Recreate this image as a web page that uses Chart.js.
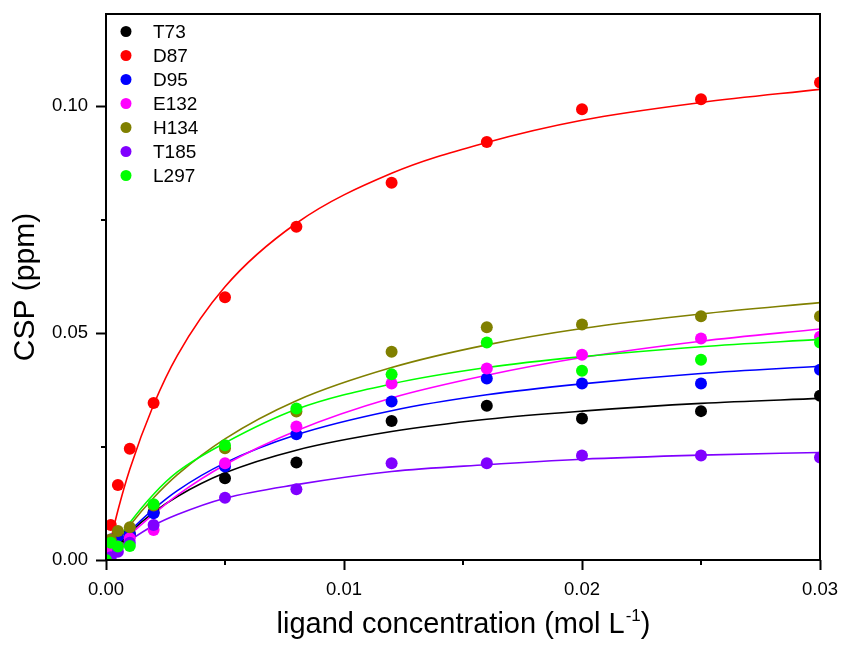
<!DOCTYPE html>
<html>
<head>
<meta charset="utf-8">
<script src="https://cdn.jsdelivr.net/npm/chart.js@4.4.0/dist/chart.umd.min.js"></script>
<style>
  html, body { margin: 0; padding: 0; background: #ffffff; }
  #wrap { width: 843px; height: 650px; }
</style>
</head>
<body>
<div id="wrap"><canvas id="c" width="843" height="650"></canvas></div>
<script>
// Residue names and their marker colours
const SERIES_NAMES  = ['T73', 'D87', 'D95', 'E132', 'H134', 'T185', 'L297'];
const SERIES_COLORS = ['#000000', '#ff0000', '#0000ff', '#ff00ff', '#808000', '#8000ff', '#00ff00'];

// Titration points: ligand concentration (mol/L) and chemical shift perturbation (ppm)
const CONC = [0, 0.0002, 0.0005, 0.001, 0.002, 0.005, 0.008, 0.012, 0.016, 0.02, 0.025, 0.03];
const CSP_T73  = [0, 0.0030, 0.0040, 0.0058, 0.0105, 0.0180, 0.0215, 0.0306, 0.0340, 0.0312, 0.0328, 0.0362];
const CSP_D87  = [0, 0.0077, 0.0165, 0.0245, 0.0346, 0.0579, 0.0734, 0.0831, 0.0921, 0.0993, 0.1015, 0.1052];
const CSP_D95  = [0, 0.0045, 0.0052, 0.0057, 0.0103, 0.0206, 0.0277, 0.0349, 0.0400, 0.0389, 0.0389, 0.0419];
const CSP_E132 = [0, 0.0020, 0.0030, 0.0048, 0.0066, 0.0213, 0.0294, 0.0389, 0.0422, 0.0452, 0.0488, 0.0492];
const CSP_H134 = [0, 0.0045, 0.0064, 0.0072, 0.0120, 0.0246, 0.0327, 0.0459, 0.0513, 0.0519, 0.0537, 0.0537];
const CSP_T185 = [0, 0.0006, 0.0018, 0.0038, 0.0077, 0.0137, 0.0156, 0.0213, 0.0213, 0.0230, 0.0230, 0.0226];
const CSP_L297 = [0, 0.0038, 0.0030, 0.0031, 0.0123, 0.0253, 0.0334, 0.0409, 0.0479, 0.0417, 0.0441, 0.0479];

// Fitted binding curves, sampled along the concentration axis
const FIT_CONC = [0, 0.0005, 0.001, 0.002, 0.003, 0.005, 0.008, 0.012, 0.016, 0.02, 0.025, 0.03];
const FIT_T73  = [0, 0.0032, 0.0060, 0.0105, 0.0140, 0.0192, 0.0242, 0.0283, 0.0310, 0.0328, 0.0345, 0.0356];
const FIT_D87  = [0, 0.0109, 0.0200, 0.0342, 0.0451, 0.0602, 0.0742, 0.0852, 0.0920, 0.0969, 0.1008, 0.1037];
const FIT_D95  = [0, 0.0033, 0.0063, 0.0112, 0.0153, 0.0214, 0.0276, 0.0329, 0.0364, 0.0388, 0.0411, 0.0427];
const FIT_E132 = [0, 0.0029, 0.0055, 0.0101, 0.0143, 0.0210, 0.0285, 0.0357, 0.0407, 0.0446, 0.0482, 0.0509];
const FIT_H134 = [0, 0.0040, 0.0076, 0.0137, 0.0188, 0.0267, 0.0351, 0.0424, 0.0474, 0.0510, 0.0542, 0.0567];
const FIT_T185 = [0, 0.0023, 0.0043, 0.0076, 0.0100, 0.0136, 0.0166, 0.0195, 0.0210, 0.0222, 0.0231, 0.0237];
const FIT_L297 = [0, 0.0044, 0.0082, 0.0145, 0.0194, 0.0258, 0.0332, 0.0388, 0.0424, 0.0448, 0.0470, 0.0486];

// Axis ticks and titles
const X_TICKS = [0, 0.01, 0.02, 0.03];
const X_MINOR = [0.005, 0.015, 0.025];
const Y_TICKS = [0, 0.05, 0.10];
const Y_MINOR = [0.025, 0.075];
const X_TITLE = 'ligand concentration (mol L';
const X_TITLE_SUP = '-1';
const Y_TITLE = 'CSP (ppm)';

const FONT = '"Liberation Sans", Arial, sans-serif';

const POINTS = [CSP_T73, CSP_D87, CSP_D95, CSP_E132, CSP_H134, CSP_T185, CSP_L297];
const FITS   = [FIT_T73, FIT_D87, FIT_D95, FIT_E132, FIT_H134, FIT_T185, FIT_L297];

const toXY = (xs, ys) => xs.map((x, i) => ({ x: x, y: ys[i] }));

const datasets = [];
SERIES_NAMES.forEach((name, i) => {
  datasets.push({
    label: name,
    data: toXY(CONC, POINTS[i]),
    showLine: false,
    pointRadius: 6,
    pointHoverRadius: 6,
    pointBorderWidth: 0,
    pointBackgroundColor: SERIES_COLORS[i],
    backgroundColor: SERIES_COLORS[i],
    borderColor: SERIES_COLORS[i],
    clip: 0,
    order: 10 - i
  });
});
SERIES_NAMES.forEach((name, i) => {
  datasets.push({
    label: name + ' fit',
    data: toXY(FIT_CONC, FITS[i]),
    showLine: true,
    pointRadius: 0,
    borderWidth: 1.6,
    borderColor: SERIES_COLORS[i],
    backgroundColor: SERIES_COLORS[i],
    cubicInterpolationMode: 'monotone',
    fill: false,
    clip: 0,
    order: 40 - i
  });
});

// Box frame, minor ticks, axis titles and in-plot legend
const decorations = {
  id: 'decorations',
  afterDatasetsDraw(chart) {
    const ctx = chart.ctx;
    const a = chart.chartArea;
    const xs = chart.scales.x, ys = chart.scales.y;
    ctx.save();
    ctx.strokeStyle = '#000';
    ctx.lineWidth = 2;
    ctx.strokeRect(a.left, a.top, a.right - a.left, a.bottom - a.top);
    ctx.beginPath();
    X_MINOR.forEach(v => {
      const px = Math.round(xs.getPixelForValue(v));
      ctx.moveTo(px, a.bottom);
      ctx.lineTo(px, a.bottom + 5);
    });
    Y_MINOR.forEach(v => {
      const py = Math.round(ys.getPixelForValue(v));
      ctx.moveTo(a.left, py);
      ctx.lineTo(a.left - 5, py);
    });
    ctx.stroke();
    ctx.restore();
  },
  afterDraw(chart) {
    const ctx = chart.ctx;
    const a = chart.chartArea;
    ctx.save();
    ctx.fillStyle = '#000';

    // x title with superscript
    const mainFont = '29px ' + FONT;
    const supFont = '17px ' + FONT;
    ctx.font = mainFont;
    const w1 = ctx.measureText(X_TITLE).width;
    const w3 = ctx.measureText(')').width;
    ctx.font = supFont;
    const w2 = ctx.measureText(X_TITLE_SUP).width;
    const total = w1 + w2 + w3;
    const x0 = (a.left + a.right) / 2 - total / 2;
    const base = 633;
    ctx.textBaseline = 'alphabetic';
    ctx.textAlign = 'left';
    ctx.font = mainFont;
    ctx.fillText(X_TITLE, x0, base);
    ctx.font = supFont;
    ctx.fillText(X_TITLE_SUP, x0 + w1 + 1, base - 12);
    ctx.font = mainFont;
    ctx.fillText(')', x0 + w1 + w2 + 1, base);

    // y title
    ctx.save();
    ctx.translate(34, (a.top + a.bottom) / 2);
    ctx.rotate(-Math.PI / 2);
    ctx.textAlign = 'center';
    ctx.textBaseline = 'alphabetic';
    ctx.font = '30px ' + FONT;
    ctx.fillText(Y_TITLE, 0, 0);
    ctx.restore();

    // legend
    ctx.font = '19px ' + FONT;
    ctx.textAlign = 'left';
    ctx.textBaseline = 'middle';
    SERIES_NAMES.forEach((name, i) => {
      const cy = 31.5 + i * 24;
      ctx.beginPath();
      ctx.fillStyle = SERIES_COLORS[i];
      ctx.arc(126, cy, 5.5, 0, Math.PI * 2);
      ctx.fill();
      ctx.fillStyle = '#000';
      ctx.fillText(name, 153, cy + 1);
    });
    ctx.restore();
  }
};

new Chart(document.getElementById('c'), {
  type: 'scatter',
  data: { datasets: datasets },
  options: {
    responsive: false,
    devicePixelRatio: 1,
    animation: false,
    layout: { padding: { left: 0, right: 23, top: 14, bottom: 0 } },
    plugins: {
      legend: { display: false },
      tooltip: { enabled: false },
      title: { display: false }
    },
    scales: {
      x: {
        type: 'linear',
        min: 0,
        max: 0.03,
        afterBuildTicks: s => { s.ticks = X_TICKS.map(v => ({ value: v })); },
        afterFit: s => { s.height = 90; s.paddingLeft = 0; s.paddingRight = 0; },
        ticks: {
          color: '#000',
          font: { family: FONT, size: 18.5 },
          padding: 9,
          maxRotation: 0,
          callback: v => Number(v).toFixed(2)
        },
        grid: {
          display: true,
          drawOnChartArea: false,
          drawTicks: true,
          tickLength: 10,
          tickWidth: 2,
          tickColor: '#000',
          color: '#000'
        },
        border: { display: false }
      },
      y: {
        type: 'linear',
        min: 0,
        max: 0.1203,
        afterBuildTicks: s => { s.ticks = Y_TICKS.map(v => ({ value: v })); },
        afterFit: s => { s.width = 106; s.paddingTop = 0; s.paddingBottom = 0; },
        ticks: {
          color: '#000',
          font: { family: FONT, size: 18.5 },
          padding: 8,
          callback: v => Number(v).toFixed(2)
        },
        grid: {
          display: true,
          drawOnChartArea: false,
          drawTicks: true,
          tickLength: 10,
          tickWidth: 2,
          tickColor: '#000',
          color: '#000'
        },
        border: { display: false }
      }
    }
  },
  plugins: [decorations]
});
</script>
</body>
</html>
